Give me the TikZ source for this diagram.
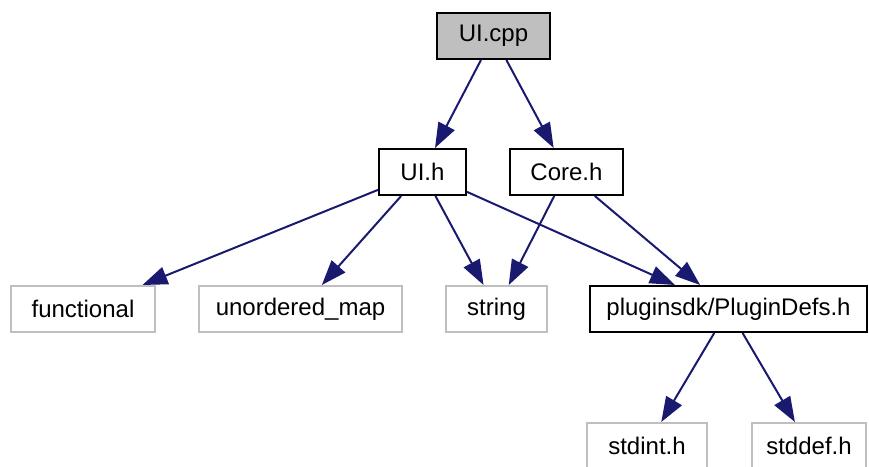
\documentclass[tikz,border=0pt]{standalone}
\usepackage{fontspec}
\setmainfont{Liberation Sans}
\usetikzlibrary{arrows.meta,positioning}

\begin{document}
\begin{tikzpicture}[
  x=1pt, y=-1pt,
  file/.style   = {draw=black, line width=2pt, minimum height=46pt,
                   inner sep=0pt, font=\fontsize{24}{28}\selectfont},
  main/.style   = {file, fill=black!25},
  sys/.style    = {file, draw=black!25},
  dep/.style    = {-{Triangle[length=25pt,width=18pt]}, line width=2pt,
                   draw=edgeblue},
]
\definecolor{edgeblue}{RGB}{25,25,112}
\useasboundingbox (0,0) rectangle (869,466);
% nodes
\node[main, minimum width=113pt] (uicpp) at (493.5,36)  {UI.cpp};
\node[file, minimum width=87pt]  (uih)   at (422.5,172) {UI.h};
\node[file, minimum width=113pt] (coreh) at (566.5,172) {Core.h};
\node[sys,  minimum width=144pt] (func)  at (83,309)    {functional};
\node[sys,  minimum width=203pt] (umap)  at (300.5,309) {unordered\_map};
\node[sys,  minimum width=101pt] (str)   at (496.5,309) {string};
\node[file, minimum width=277pt] (pdefs) at (728.5,309) {pluginsdk/PluginDefs.h};
\node[sys,  minimum width=120pt] (sint)  at (647,446)   {stdint.h};
\node[sys,  minimum width=114pt] (sdef)  at (809,446)   {stddef.h};
% edges
\draw[dep] (uicpp) -- (uih);
\draw[dep] (uicpp) -- (coreh);
\draw[dep] (uih) -- (func);
\draw[dep] (uih) -- (umap);
\draw[dep] (uih) -- (str);
\draw[dep] (uih) -- (pdefs);
\draw[dep] (coreh) -- (str);
\draw[dep] (coreh) -- (pdefs);
\draw[dep] (pdefs) -- (sint);
\draw[dep] (pdefs) -- (sdef);
\end{tikzpicture}
\end{document}
